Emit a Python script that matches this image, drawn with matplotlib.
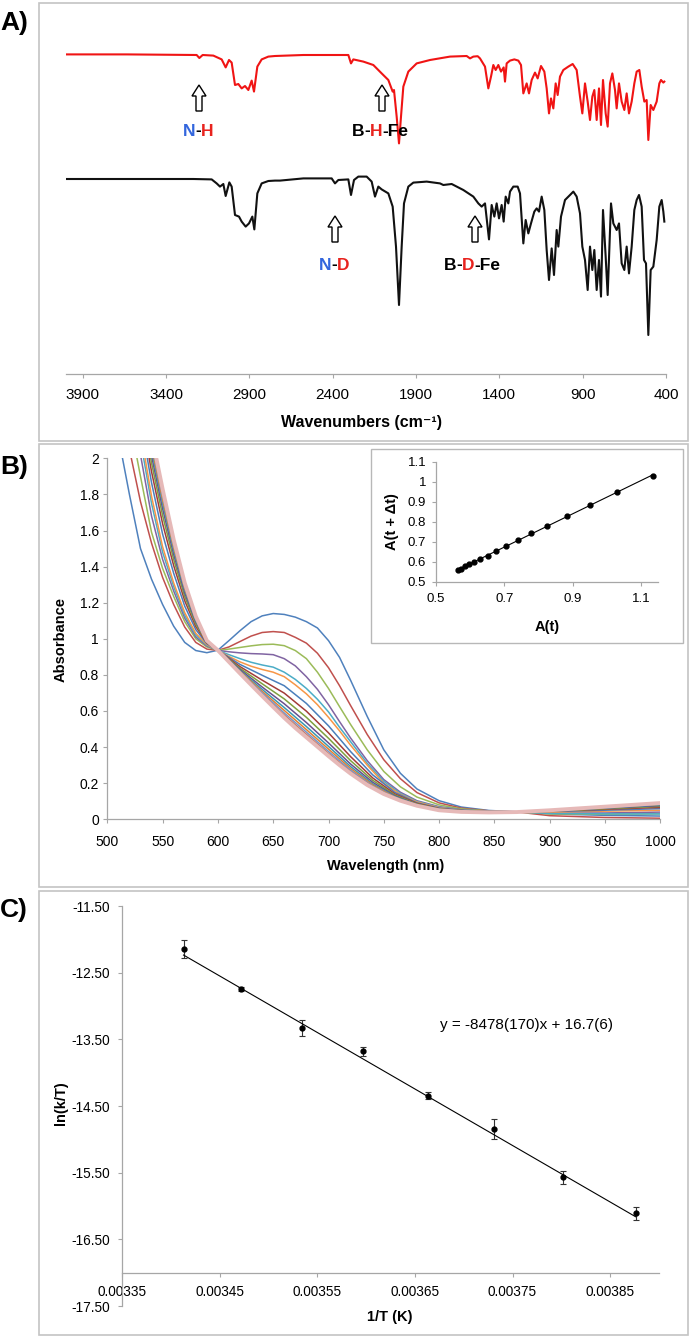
import numpy as np
import matplotlib
matplotlib.use("Agg")
import matplotlib.pyplot as plt
from matplotlib.patches import Rectangle, FancyArrow
from matplotlib.ticker import FuncFormatter

plt.rcParams['font.family'] = ['Liberation Sans', 'DejaVu Sans']

# ---------------- data ----------------
# A) IR spectra, wavenumber (cm-1) and transmittance (arbitrary %)
red_wn = [4000, 3636, 3216, 3200, 3180, 3116, 3066, 3042, 3022, 3006, 2986, 2966, 2946, 2926,
          2906, 2886, 2872, 2852, 2826, 2786, 2746, 2576, 2306, 2290, 2276, 2216, 2156, 2106,
          2066, 2040, 2032, 2016, 2002, 1990, 1976, 1946, 1896, 1816, 1696, 1596, 1576, 1556,
          1530, 1516, 1486, 1466, 1450, 1436, 1422, 1406, 1390, 1374, 1366, 1356, 1336, 1310,
          1286, 1270, 1256, 1236, 1222, 1206, 1186, 1170, 1150, 1130, 1116, 1102, 1090, 1076,
          1062, 1050, 1036, 1016, 986, 960, 936, 916, 902, 886, 870, 856, 842, 830, 816, 802,
          790, 778, 762, 750, 736, 722, 706, 696, 682, 666, 650, 636, 622, 606, 590, 576, 560,
          546, 530, 516, 506, 492, 476, 456, 440, 430, 416, 410]
red_t = [99.8, 99.8, 99.5, 98.0, 99.5, 99.2, 97.3, 93.3, 97.0, 95.7, 84.5, 85.0, 82.8, 84.0,
         82.0, 86.7, 81.2, 93.7, 97.3, 98.7, 99.0, 99.5, 99.5, 95.3, 97.3, 96.2, 94.5, 90.3,
         87.0, 81.2, 82.0, 68.7, 55.3, 68.7, 83.7, 91.2, 95.3, 97.0, 98.7, 99.0, 97.8, 98.7,
         98.9, 97.8, 93.7, 82.8, 88.7, 94.5, 92.0, 94.5, 91.2, 93.3, 86.2, 95.3, 96.7, 97.3,
         96.7, 94.5, 80.3, 85.3, 80.3, 87.0, 90.7, 87.8, 94.0, 91.2, 82.8, 70.3, 77.8, 72.8,
         85.3, 79.5, 88.7, 92.0, 93.7, 95.0, 92.0, 78.7, 70.3, 85.3, 76.2, 67.0, 78.7, 82.0,
         67.0, 82.8, 64.5, 87.0, 70.3, 63.7, 85.3, 90.3, 82.0, 72.8, 85.3, 76.2, 72.0, 80.3,
         70.3, 76.2, 85.3, 91.2, 92.0, 83.7, 76.2, 77.0, 57.0, 74.5, 72.0, 76.2, 85.3, 87.0,
         85.7, 86.2]
red_offset = 63

black_wn = [4000, 3236, 3126, 3096, 3076, 3056, 3042, 3020, 3006, 2986, 2962, 2946, 2922, 2902,
            2882, 2870, 2852, 2826, 2786, 2746, 2716, 2576, 2406, 2386, 2366, 2306, 2290, 2272,
            2246, 2196, 2166, 2146, 2126, 2106, 2066, 2040, 2020, 2002, 1986, 1972, 1946, 1916,
            1836, 1756, 1736, 1686, 1616, 1556, 1526, 1506, 1486, 1462, 1446, 1430, 1416, 1402,
            1386, 1374, 1362, 1346, 1336, 1316, 1290, 1276, 1256, 1242, 1226, 1210, 1190, 1176,
            1162, 1146, 1130, 1116, 1102, 1086, 1072, 1056, 1046, 1030, 1006, 976, 956, 936, 916,
            902, 886, 870, 856, 842, 830, 816, 802, 790, 778, 762, 750, 730, 716, 696, 682, 666,
            650, 636, 622, 606, 590, 576, 562, 546, 532, 520, 506, 492, 476, 456, 440, 426, 416,
            410]
black_t = [100.5, 100.5, 100.3, 98.3, 96.7, 98.0, 92.0, 98.8, 96.7, 82.5, 81.7, 79.2, 76.7, 78.3,
           81.7, 75.3, 93.3, 98.3, 99.5, 99.7, 99.7, 100.8, 100.8, 98.3, 100.0, 100.3, 92.5, 100.0,
           101.7, 101.7, 99.2, 91.7, 96.7, 95.3, 93.3, 86.7, 66.7, 37.5, 66.7, 88.3, 96.7, 98.7,
           99.2, 98.3, 97.5, 98.0, 95.0, 91.7, 88.3, 86.7, 88.3, 70.3, 87.5, 81.7, 88.3, 80.8,
           87.5, 79.2, 91.7, 88.3, 94.2, 96.7, 96.7, 93.3, 68.3, 80.0, 73.3, 78.3, 84.2, 85.8,
           84.2, 91.7, 85.0, 65.0, 50.0, 65.8, 52.5, 75.0, 66.7, 81.7, 90.0, 92.5, 94.2, 91.7, 83.3,
           66.7, 60.0, 45.0, 66.7, 55.0, 65.0, 45.0, 60.0, 41.7, 85.0, 61.7, 42.5, 88.3, 78.3, 75.0,
           78.3, 58.3, 55.0, 66.7, 53.3, 66.7, 85.0, 90.0, 92.5, 86.7, 60.0, 58.3, 22.5, 55.0, 56.7,
           70.0, 86.7, 90.0, 84.2, 79.2]

ir_ticks = [3900, 3400, 2900, 2400, 1900, 1400, 900, 400]

# B) UV-vis spectra over time
# first six scans and the final scan on a fine wavelength grid
uv_nm = [500, 510, 520, 530, 540, 550, 560, 570, 580, 590, 600, 610, 620, 630, 640, 650, 660,
         670, 680, 690, 700, 710, 720, 735, 750, 765, 780, 800, 820, 845, 870, 900, 950, 1000]
uv_first = [
    [2.5, 2.12, 1.80, 1.50, 1.33, 1.19, 1.07, 0.98, 0.935, 0.923, 0.937, 0.99, 1.045, 1.095, 1.127, 1.14, 1.135,
     1.12, 1.095, 1.06, 0.99, 0.897, 0.77, 0.57, 0.385, 0.255, 0.168, 0.103, 0.068, 0.049, 0.042, 0.03, 0.022, 0.018],
    [2.7, 2.33, 2.05, 1.76, 1.53, 1.34, 1.19, 1.065, 0.98, 0.943, 0.936, 0.955, 0.985, 1.015, 1.035, 1.04, 1.035,
     1.008, 0.976, 0.92, 0.84, 0.74, 0.63, 0.47, 0.33, 0.225, 0.148, 0.091, 0.062, 0.047, 0.041, 0.02, 0.01, 0.006],
    [2.85, 2.52, 2.22, 1.9, 1.59, 1.39, 1.235, 1.095, 1.0, 0.955, 0.936, 0.943, 0.952, 0.961, 0.968, 0.97, 0.962,
     0.935, 0.89, 0.815, 0.725, 0.624, 0.525, 0.385, 0.265, 0.18, 0.123, 0.08, 0.058, 0.046, 0.041, 0.03, 0.028, 0.03],
    [2.95, 2.62, 2.3, 2.02, 1.68, 1.44, 1.265, 1.115, 1.01, 0.96, 0.936, 0.928, 0.922, 0.918, 0.916, 0.912, 0.89,
     0.85, 0.79, 0.72, 0.635, 0.541, 0.45, 0.325, 0.22, 0.15, 0.103, 0.07, 0.053, 0.044, 0.041, 0.035, 0.035, 0.04],
    [3.0, 2.7, 2.38, 2.1, 1.75, 1.48, 1.29, 1.13, 1.02, 0.965, 0.936, 0.912, 0.89, 0.87, 0.855, 0.843, 0.815,
     0.775, 0.725, 0.665, 0.595, 0.51, 0.43, 0.31, 0.21, 0.143, 0.099, 0.067, 0.051, 0.044, 0.041, 0.033, 0.03, 0.03],
    [3.05, 2.75, 2.43, 2.15, 1.79, 1.51, 1.31, 1.145, 1.03, 0.968, 0.936, 0.902, 0.872, 0.848, 0.83, 0.815, 0.79,
     0.745, 0.695, 0.635, 0.565, 0.49, 0.41, 0.3, 0.2, 0.138, 0.096, 0.065, 0.05, 0.043, 0.041, 0.04, 0.045, 0.05],
]
uv_first_colors = ['#4F81BD', '#C0504D', '#9BBB59', '#8064A2', '#4BACC6', '#F79646']
uv_last = [3.5, 3.15, 2.8, 2.45, 2.13, 1.83, 1.55, 1.31, 1.125, 0.99, 0.936, 0.872, 0.808, 0.745, 0.683, 0.622,
           0.562, 0.506, 0.454, 0.402, 0.35, 0.3, 0.253, 0.19, 0.14, 0.103, 0.075, 0.05, 0.041, 0.038, 0.04, 0.05,
           0.07, 0.09]
uv_last_color = '#E6B9B8'

# later scans, crowded together, on a coarser grid
uv_nm_mid = [500, 515, 530, 540, 550, 560, 570, 580, 590, 600, 620, 640, 660, 680, 700, 720, 740, 760,
             780, 800, 830, 870, 930, 1000]
uv_mid = [
    [3.149, 2.675, 2.216, 1.865, 1.580, 1.363, 1.181, 1.051, 0.973, 0.936, 0.858, 0.798, 0.740, 0.642, 0.518, 0.375, 0.246, 0.149, 0.091, 0.062, 0.045, 0.041, 0.047, 0.059],
    [3.23, 2.744, 2.27, 1.926, 1.638, 1.406, 1.211, 1.068, 0.977, 0.936, 0.846, 0.771, 0.699, 0.599, 0.479, 0.347, 0.229, 0.141, 0.088, 0.059, 0.044, 0.041, 0.051, 0.066],
    [3.293, 2.798, 2.312, 1.974, 1.683, 1.44, 1.234, 1.081, 0.98, 0.936, 0.837, 0.751, 0.667, 0.565, 0.449, 0.325, 0.216, 0.135, 0.085, 0.057, 0.043, 0.040, 0.053, 0.072],
    [3.347, 2.844, 2.348, 2.014, 1.721, 1.468, 1.254, 1.093, 0.983, 0.936, 0.830, 0.733, 0.640, 0.536, 0.423, 0.306, 0.205, 0.130, 0.082, 0.055, 0.042, 0.040, 0.056, 0.076],
    [3.388, 2.879, 2.375, 2.045, 1.75, 1.49, 1.269, 1.101, 0.985, 0.936, 0.824, 0.720, 0.619, 0.514, 0.404, 0.292, 0.196, 0.126, 0.080, 0.054, 0.042, 0.040, 0.057, 0.080],
    [3.419, 2.906, 2.396, 2.069, 1.772, 1.507, 1.28, 1.108, 0.986, 0.936, 0.820, 0.709, 0.603, 0.497, 0.389, 0.281, 0.190, 0.123, 0.079, 0.053, 0.041, 0.040, 0.059, 0.083],
    [3.446, 2.929, 2.414, 2.089, 1.792, 1.521, 1.29, 1.114, 0.987, 0.936, 0.816, 0.701, 0.589, 0.483, 0.376, 0.272, 0.184, 0.120, 0.078, 0.052, 0.041, 0.040, 0.060, 0.085],
    [3.469, 2.948, 2.429, 2.106, 1.808, 1.533, 1.298, 1.118, 0.988, 0.936, 0.812, 0.693, 0.578, 0.471, 0.365, 0.264, 0.180, 0.118, 0.076, 0.051, 0.040, 0.040, 0.061, 0.087],
    [3.484, 2.962, 2.44, 2.118, 1.819, 1.542, 1.304, 1.122, 0.989, 0.936, 0.810, 0.688, 0.570, 0.462, 0.358, 0.258, 0.176, 0.117, 0.076, 0.051, 0.040, 0.040, 0.061, 0.089],
    [3.496, 2.971, 2.447, 2.127, 1.827, 1.548, 1.308, 1.124, 0.99, 0.936, 0.809, 0.684, 0.564, 0.456, 0.352, 0.255, 0.174, 0.115, 0.075, 0.050, 0.040, 0.040, 0.062, 0.090],
]
uv_mid_colors = ['#4A7EBB', '#A33B38', '#7FA03E', '#6A4F8C', '#3A98B2', '#E57F2F',
                 '#729ACA', '#CD7371', '#AFC97A', '#FAC090']

# B inset
a_t = [0.563, 0.573, 0.585, 0.597, 0.612, 0.629, 0.653, 0.676, 0.706, 0.740, 0.778, 0.824,
       0.884, 0.950, 1.029, 1.136]
a_t_dt = [0.562, 0.567, 0.579, 0.589, 0.599, 0.614, 0.631, 0.656, 0.679, 0.708, 0.743, 0.782,
          0.828, 0.885, 0.951, 1.030]

# C) Eyring plot
inv_T = [0.003413, 0.003472, 0.003534, 0.003597, 0.003663, 0.003731, 0.003802, 0.003876]
ln_kT = [-12.145, -12.745, -13.33, -13.68, -14.345, -14.85, -15.57, -16.11]
ln_err = [0.13, 0.03, 0.12, 0.07, 0.05, 0.15, 0.10, 0.10]
fit_slope = -8478
fit_intercept = 16.7

# ---------------- figure ----------------
W, H = 691, 1339
fig = plt.figure(figsize=(W / 100, H / 100), dpi=100)
GRAY = '#a6a6a6'
LAB_FS = 10.5


def px_box(l, t, r, b):
    return [l / W, 1 - b / H, (r - l) / W, (b - t) / H]


def style_axes(ax, fs, left=True):
    for s in ['top', 'right']:
        ax.spines[s].set_visible(False)
    for s in ['left', 'bottom']:
        ax.spines[s].set_color(GRAY)
        ax.spines[s].set_linewidth(0.9)
    if not left:
        ax.spines['left'].set_visible(False)
    ax.set_facecolor('none')
    ax.tick_params(direction='out', color=GRAY, length=3, width=0.8, labelsize=fs)


# A) IR
ax_a = fig.add_axes(px_box(66, 30, 666, 374))
style_axes(ax_a, 11, left=False)
ax_a.plot(red_wn, np.array(red_t) + red_offset, color='#F01414', lw=1.5)
ax_a.plot(black_wn, black_t, color='#111111', lw=1.5)
ax_a.set_xlim(4000, 400)
ax_a.set_ylim(3, 175)
ax_a.set_xticks(ir_ticks)
ax_a.set_yticks([])
ax_a.tick_params(axis='x', pad=7)

# B) UV-vis
ax_b = fig.add_axes(px_box(107.3, 458.3, 660.3, 819.3))
style_axes(ax_b, 10)
for vals, col in zip(uv_first, uv_first_colors):
    ax_b.plot(uv_nm, vals, color=col, lw=1.1)
for vals, col in zip(uv_mid, uv_mid_colors):
    ax_b.plot(uv_nm_mid, vals, color=col, lw=1.1)
ax_b.plot(uv_nm, uv_last, color=uv_last_color, lw=2.8)
ax_b.set_xlim(500, 1000)
ax_b.set_ylim(0, 2)
ax_b.set_xticks(np.arange(500, 1001, 50))
ax_b.set_yticks(np.arange(0, 2.01, 0.2))
ax_b.yaxis.set_major_formatter(FuncFormatter(lambda v, _: f"{round(v, 1):g}"))
ax_b.tick_params(axis='x', pad=8)
ax_b.tick_params(axis='y', pad=3)

# B inset
ax_i = fig.add_axes(px_box(436, 462, 658, 582))
style_axes(ax_i, 9.5)
ax_i.plot(a_t, a_t_dt, 'o', color='black', ms=3.5)
k, b0 = np.polyfit(a_t, a_t_dt, 1)
ax_i.plot([a_t[0], a_t[-1]], [k * a_t[0] + b0, k * a_t[-1] + b0], color='black', lw=0.8)
ax_i.set_xlim(0.5, 1.15)
ax_i.set_ylim(0.5, 1.1)
ax_i.set_xticks([0.5, 0.7, 0.9, 1.1])
ax_i.set_yticks(np.arange(0.5, 1.11, 0.1))
ax_i.xaxis.set_major_formatter(FuncFormatter(lambda v, _: f"{v:g}"))
ax_i.yaxis.set_major_formatter(FuncFormatter(lambda v, _: f"{round(v, 2):g}"))
ax_i.tick_params(axis='x', pad=5)
ax_i.tick_params(axis='y', pad=4)

# C) Eyring
ax_c = fig.add_axes(px_box(122, 906, 659, 1306))
style_axes(ax_c, 9.8)
ax_c.spines['bottom'].set_position(('data', -17))
ax_c.errorbar(inv_T, ln_kT, yerr=ln_err, fmt='o', color='black', ms=3.5,
              ecolor='#333333', elinewidth=0.8, capsize=2, capthick=0.8)
fx = np.array([inv_T[0], inv_T[-1]])
ax_c.plot(fx, fit_slope * fx + fit_intercept, color='black', lw=0.8)
ax_c.set_xlim(0.00335, 0.0039)
ax_c.set_ylim(-17.5, -11.5)
ax_c.set_xticks([0.00335, 0.00345, 0.00355, 0.00365, 0.00375, 0.00385])
ax_c.set_yticks(np.arange(-17.5, -11.49, 1.0))
ax_c.xaxis.set_major_formatter(FuncFormatter(lambda v, _: f"{v:.5f}"))
ax_c.yaxis.set_major_formatter(FuncFormatter(lambda v, _: f"{v:.2f}"))
ax_c.tick_params(axis='x', pad=6)
ax_c.tick_params(axis='y', pad=6)
ax_c.text(0.003764, -13.28, 'y = -8478(170)x + 16.7(6)', fontsize=11, ha='center', va='center')

# overlay in pixel coordinates for frames, labels and arrows
ov = fig.add_axes([0, 0, 1, 1])
ov.set_xlim(0, W)
ov.set_ylim(H, 0)
ov.axis('off')

for (t, b) in [(3, 441), (444, 887), (891, 1335)]:
    ov.add_patch(Rectangle((39, t), 649, b - t, fill=False, ec='#c4c4c4', lw=1.2))
ov.add_patch(Rectangle((371, 449), 312, 194, fill=False, ec='#b8b8b8', lw=1.0))

for lab, y in [('A)', 23), ('B)', 467), ('C)', 910)]:
    ov.text(0, y, lab, fontsize=19, fontweight='bold', ha='left', va='center')

bold = dict(fontsize=LAB_FS, fontweight='bold')
ov.text(362, 423, 'Wavenumbers (cm\u207b\u00b9)', ha='center', va='center',
        fontsize=11.5, fontweight='bold')
ov.text(386, 866, 'Wavelength (nm)', ha='center', va='center', **bold)
ov.text(61, 640, 'Absorbance', ha='center', va='center', rotation=90, **bold)
ov.text(547, 627, 'A(t)', ha='center', va='center', **bold)
ov.text(392, 522, 'A(t + \u0394t)', ha='center', va='center', rotation=90, **bold)
ov.text(390, 1317, '1/T (K)', ha='center', va='center', **bold)
ov.text(61, 1103, 'ln(k/T)', ha='center', va='center', rotation=90, **bold)

# hollow arrows
for x, top, bot in [(199, 85, 111), (382, 85, 111), (335, 216, 242), (475, 216, 242)]:
    ov.add_patch(FancyArrow(x, bot, 0, top - bot, width=6, head_width=14, head_length=11,
                            length_includes_head=True, fc='white', ec='black', lw=1.0))

BLUE_N = '#3366DD'
RED_H = '#E8231E'


def colored_label(x, y, parts):
    t = ov.text(x, y, parts[0][0], color=parts[0][1], fontsize=12.5, fontweight='bold',
                ha='left', va='center')
    for s, c in parts[1:]:
        t = ov.annotate(s, xy=(1, 0.5), xycoords=t, color=c, fontsize=12.5,
                        fontweight='bold', ha='left', va='center')


colored_label(183, 131, [('N', BLUE_N), ('-', 'black'), ('H', RED_H)])
colored_label(352, 131, [('B', 'black'), ('-', 'black'), ('H', RED_H), ('-Fe', 'black')])
colored_label(319, 265, [('N', BLUE_N), ('-', 'black'), ('D', RED_H)])
colored_label(444, 265, [('B', 'black'), ('-', 'black'), ('D', RED_H), ('-Fe', 'black')])

fig.savefig('out.png', dpi=100)
